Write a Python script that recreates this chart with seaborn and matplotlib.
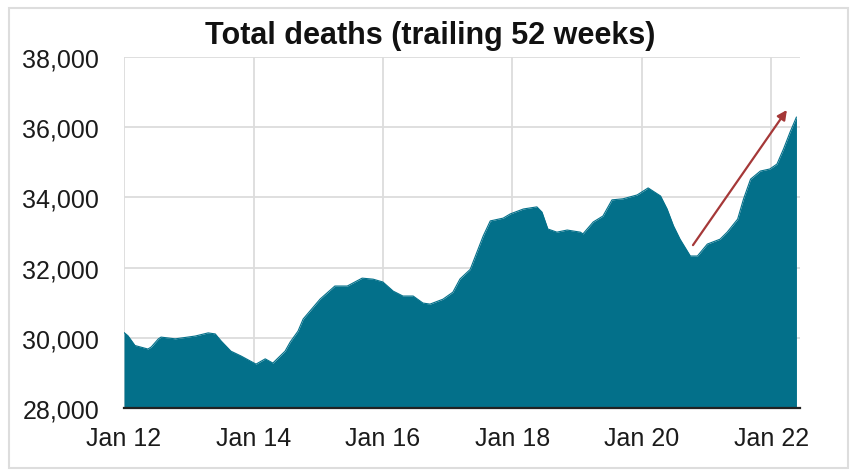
import matplotlib
matplotlib.use("Agg")
import matplotlib.pyplot as plt
import matplotlib.dates as mdates
import matplotlib.patches as mpatches
import matplotlib.ticker as mticker
import pandas as pd
import seaborn as sns

# ---- data ----
dates = [
    "2012-01-01", "2012-01-23", "2012-03-03", "2012-05-15", "2012-06-03", "2012-07-13",
    "2012-07-28", "2012-10-16", "2013-02-06", "2013-04-20", "2013-05-30", "2013-07-02",
    "2013-08-26", "2013-10-23", "2014-01-15", "2014-03-08", "2014-04-20", "2014-06-28",
    "2014-07-27", "2014-09-09", "2014-10-08", "2015-01-12", "2015-04-05", "2015-06-14",
    "2015-09-06", "2015-11-07", "2016-01-01", "2016-02-28", "2016-04-23", "2016-06-20",
    "2016-08-14", "2016-09-23", "2016-12-05", "2017-01-30", "2017-03-11", "2017-05-08",
    "2017-07-20", "2017-08-29", "2017-11-10", "2017-12-20", "2018-03-04", "2018-05-19",
    "2018-06-17", "2018-07-20", "2018-09-09", "2018-11-06", "2019-01-19", "2019-02-03",
    "2019-04-02", "2019-05-27", "2019-07-17", "2019-09-17", "2019-12-06", "2020-02-06",
    "2020-04-16", "2020-05-23", "2020-06-28", "2020-08-04", "2020-10-01", "2020-11-10",
    "2021-01-05", "2021-03-18", "2021-04-27", "2021-06-25", "2021-07-28", "2021-09-06",
    "2021-10-31", "2021-12-24", "2022-02-02", "2022-03-11", "2022-04-17", "2022-05-23",
]
deaths = [
    30150, 30060, 29780, 29680, 29740, 29970,
    30020, 29970, 30050, 30140, 30110, 29910,
    29620, 29480, 29250, 29400, 29280, 29620,
    29880, 30190, 30535, 31105, 31475, 31475,
    31700, 31670, 31590, 31330, 31190, 31190,
    30990, 30960, 31100, 31300, 31675, 31950,
    32900, 33330, 33410, 33530, 33670, 33730,
    33580, 33100, 33010, 33070, 33010, 32960,
    33300, 33470, 33930, 33960, 34070, 34270,
    34040, 33670, 33190, 32810, 32330, 32330,
    32670, 32810, 33010, 33380, 33950, 34520,
    34750, 34810, 34950, 35380, 35860, 36290,
]
y_ticks = [28000, 30000, 32000, 34000, 36000, 38000]
x_tick_years = [2012, 2014, 2016, 2018, 2020, 2022]
title = "Total deaths (trailing 52 weeks)"
arrow_start = ("2020-10-16", 32640)
arrow_end = ("2022-03-30", 36490)

df = pd.DataFrame({"date": pd.to_datetime(dates), "deaths": deaths})

# ---- style ----
sns.set_theme(style="white")
plt.rcParams["font.family"] = ["Liberation Sans", "DejaVu Sans"]

FILL = "#03708A"
TEXT = "#1b1b1b"

fig = plt.figure(figsize=(8.61, 4.77), dpi=100)
ax = fig.add_axes([124 / 861, 1 - 409 / 477, (800 - 124) / 861, (409 - 58) / 477])

ax.fill_between(df["date"], 28000, df["deaths"], color=FILL, linewidth=0, zorder=2)
sns.lineplot(data=df, x="date", y="deaths", ax=ax, color=FILL, linewidth=0.8, zorder=3)

# arrow
ax.annotate("", xy=(pd.Timestamp(arrow_end[0]), arrow_end[1]),
            xytext=(pd.Timestamp(arrow_start[0]), arrow_start[1]),
            arrowprops=dict(arrowstyle="-|>", color="#A53838", lw=1.6,
                            mutation_scale=14, shrinkA=0, shrinkB=0),
            zorder=5)

# axes
ax.set_ylim(28000, 38000)
ax.set_xlim(pd.Timestamp("2012-01-01"), pd.Timestamp("2022-06-12"))
ax.set_yticks(y_ticks)
ax.yaxis.set_major_formatter(mticker.StrMethodFormatter("{x:,.0f}"))
ax.set_xticks([pd.Timestamp(f"{y}-01-01") for y in x_tick_years])
ax.xaxis.set_major_formatter(mdates.DateFormatter("%b %y"))
ax.set_xlabel("")
ax.set_ylabel("")

ax.grid(True, color="#DCDCDC", linewidth=1.3, zorder=0)
ax.set_axisbelow(True)
for s in ["top", "right", "left"]:
    ax.spines[s].set_visible(False)
ax.spines["bottom"].set_color("#222222")
ax.spines["bottom"].set_linewidth(1.6)
ax.spines["bottom"].set_zorder(6)

ax.tick_params(axis="x", direction="in", length=6, width=1.4, color="#222222",
               pad=13, labelsize=18, labelcolor=TEXT)
ax.tick_params(axis="y", length=0, pad=18, labelsize=18, labelcolor=TEXT)

fig.text(0.5, 1 - 36 / 477, title, ha="center", va="center",
         fontsize=22, fontweight="bold", color="#111111")

# light frame around the figure
fig.patches.append(mpatches.Rectangle((9 / 861, 1 - 469 / 477), (848 - 9) / 861, (469 - 9) / 477,
                                      transform=fig.transFigure, fill=False,
                                      edgecolor="#DDDDDD", linewidth=1.5))

fig.savefig("out.png", dpi=100, facecolor="white")
